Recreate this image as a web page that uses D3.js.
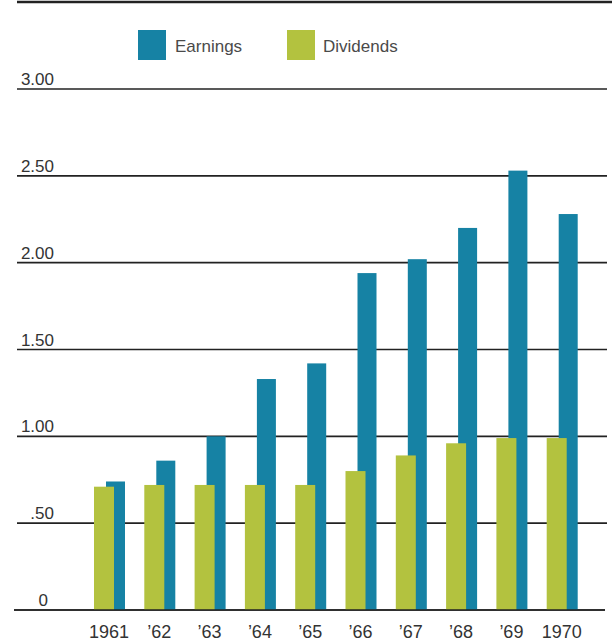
<!DOCTYPE html>
<html>
<head>
<meta charset="utf-8">
<script src="https://cdn.jsdelivr.net/npm/d3@7"></script>
<style>
  html, body { margin: 0; padding: 0; background: #fff; }
  svg { display: block; }
  text { font-family: "Liberation Sans", Arial, sans-serif; }
</style>
</head>
<body>
<svg id="chart" width="614" height="642"></svg>
<script>
// Per-share earnings and dividends, 1961–1970 (dollars)
const years = ["1961", "1962", "1963", "1964", "1965", "1966", "1967", "1968", "1969", "1970"];
const yearLabels = ["1961", "\u201962", "\u201963", "\u201964", "\u201965", "\u201966", "\u201967", "\u201968", "\u201969", "1970"];
const earnings = [0.74, 0.86, 1.00, 1.33, 1.42, 1.94, 2.02, 2.20, 2.53, 2.28];
const dividends = [0.71, 0.72, 0.72, 0.72, 0.72, 0.80, 0.89, 0.96, 0.99, 0.99];
const tickValues = [0, 0.5, 1.0, 1.5, 2.0, 2.5, 3.0];
const tickLabels = ["0", ".50", "1.00", "1.50", "2.00", "2.50", "3.00"];
const seriesNames = ["Earnings", "Dividends"];

const blue = "#1682a4";
const green = "#b3c23f";
const ink = "#222";

const svg = d3.select("#chart");

const y = d3.scaleLinear().domain([0, 3]).range([610, 89]);
const x = d3.scaleBand().domain(years).range([94, 597]).padding(0);

// rule across the top of the panel
svg.append("line")
  .attr("x1", 17).attr("x2", 612)
  .attr("y1", 2).attr("y2", 2)
  .attr("stroke", ink).attr("stroke-width", 2.5);

// legend
const legend = svg.append("g");
const legendItems = [
  { name: seriesNames[0], color: blue, sx: 138, tx: 175 },
  { name: seriesNames[1], color: green, sx: 287, tx: 323 }
];
legend.selectAll("rect").data(legendItems).join("rect")
  .attr("x", d => d.sx).attr("y", 30)
  .attr("width", 28).attr("height", 30)
  .attr("fill", d => d.color);
legend.selectAll("text").data(legendItems).join("text")
  .attr("x", d => d.tx).attr("y", 52)
  .attr("font-size", 17)
  .attr("fill", "#4a4a4a")
  .text(d => d.name);

// horizontal rules and value labels
const grid = svg.append("g");
grid.selectAll("line").data(tickValues).join("line")
  .attr("x1", d => d === 0 ? 14 : 17)
  .attr("x2", d => d === 0 ? 605 : 607)
  .attr("y1", d => y(d)).attr("y2", d => y(d))
  .attr("stroke", ink).attr("stroke-width", 1.6);

grid.selectAll("text").data(tickValues).join("text")
  .attr("x", d => d === 0 ? 48 : 54)
  .attr("y", d => y(d) - 4)
  .attr("text-anchor", "end")
  .attr("font-size", 17)
  .attr("fill", "#333")
  .text((d, i) => tickLabels[i]);

// bars: earnings sit behind the dividend bars
const bars = svg.append("g");
bars.selectAll("rect.earn").data(years).join("rect")
  .attr("class", "earn")
  .attr("x", d => x(d) + 12)
  .attr("width", 19)
  .attr("y", (d, i) => y(earnings[i]))
  .attr("height", (d, i) => y(0) - y(earnings[i]))
  .attr("fill", blue);

bars.selectAll("rect.div").data(years).join("rect")
  .attr("class", "div")
  .attr("x", d => x(d))
  .attr("width", 20)
  .attr("y", (d, i) => y(dividends[i]))
  .attr("height", (d, i) => y(0) - y(dividends[i]))
  .attr("fill", green);

// redraw the baseline over the bar feet
svg.append("line")
  .attr("x1", 14).attr("x2", 605)
  .attr("y1", y(0)).attr("y2", y(0))
  .attr("stroke", ink).attr("stroke-width", 1.6);

// year labels
svg.append("g").selectAll("text").data(years).join("text")
  .attr("x", d => x(d) + 15)
  .attr("y", 638)
  .attr("text-anchor", "middle")
  .attr("font-size", 18)
  .attr("fill", "#333")
  .text((d, i) => yearLabels[i]);
</script>
</body>
</html>
